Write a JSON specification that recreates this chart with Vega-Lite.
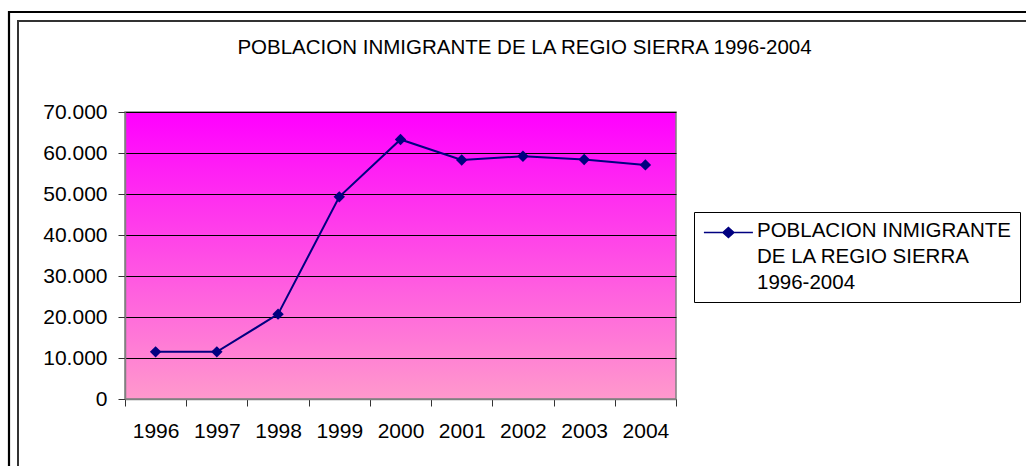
{
  "$schema": "https://vega.github.io/schema/vega-lite/v6.json",
  "autosize": {"type": "none"},
  "padding": {"left": 125, "top": 112, "right": 350, "bottom": 67},
  "width": 551,
  "height": 287,
  "background": "white",
  "title": {
    "text": "POBLACION INMIGRANTE DE LA REGIO SIERRA 1996-2004",
    "anchor": "middle",
    "frame": "group",
    "dx": 124,
    "baseline": "alphabetic",
    "offset": -64,
    "font": "Liberation Sans",
    "fontSize": 20.5,
    "fontWeight": "normal",
    "color": "black"
  },
  "view": {
    "fill": {
      "gradient": "linear",
      "x1": 0, "y1": 0, "x2": 0, "y2": 1,
      "stops": [
        {"offset": 0, "color": "#FF00FF"},
        {"offset": 1, "color": "#FF99CC"}
      ]
    },
    "stroke": "#808080",
    "strokeWidth": 1.5
  },
  "config": {
    "locale": {"number": {"decimal": ",", "thousands": ".", "grouping": [3], "currency": ["", " €"]}},
    "font": "Liberation Sans",
    "style": {"guide-label": {"lineHeight": 26.2}}
  },
  "resolve": {"scale": {"x": "independent"}, "axis": {"x": "independent"}},
  "layer": [
    {
      "data": {"values": [{}]},
      "mark": {"type": "rect", "filled": false, "stroke": "black", "strokeWidth": 2.2, "xOffset": -116, "yOffset": -100, "x2Offset": 420, "y2Offset": 100},
      "encoding": {
        "x": {"datum": 0, "type": "quantitative", "scale": {"domain": [0, 1]}, "axis": null},
        "x2": {"datum": 1},
        "y": {"datum": 70000, "type": "quantitative"},
        "y2": {"datum": 0}
      }
    },
    {
      "data": {"values": [{}]},
      "mark": {"type": "rect", "filled": false, "stroke": "#333333", "strokeWidth": 2, "xOffset": -107, "yOffset": -91, "x2Offset": 420, "y2Offset": 100},
      "encoding": {
        "x": {"datum": 0, "type": "quantitative", "scale": {"domain": [0, 1]}, "axis": null},
        "x2": {"datum": 1},
        "y": {"datum": 70000, "type": "quantitative"},
        "y2": {"datum": 0}
      }
    },
    {
      "data": {
        "values": [
          {"year": "1996", "value": 11500, "serie": "POBLACION INMIGRANTE DE LA REGIO SIERRA 1996-2004"},
          {"year": "1997", "value": 11500, "serie": "POBLACION INMIGRANTE DE LA REGIO SIERRA 1996-2004"},
          {"year": "1998", "value": 20700, "serie": "POBLACION INMIGRANTE DE LA REGIO SIERRA 1996-2004"},
          {"year": "1999", "value": 49300, "serie": "POBLACION INMIGRANTE DE LA REGIO SIERRA 1996-2004"},
          {"year": "2000", "value": 63300, "serie": "POBLACION INMIGRANTE DE LA REGIO SIERRA 1996-2004"},
          {"year": "2001", "value": 58300, "serie": "POBLACION INMIGRANTE DE LA REGIO SIERRA 1996-2004"},
          {"year": "2002", "value": 59200, "serie": "POBLACION INMIGRANTE DE LA REGIO SIERRA 1996-2004"},
          {"year": "2003", "value": 58400, "serie": "POBLACION INMIGRANTE DE LA REGIO SIERRA 1996-2004"},
          {"year": "2004", "value": 57100, "serie": "POBLACION INMIGRANTE DE LA REGIO SIERRA 1996-2004"}
        ]
      },
      "mark": {"type": "line", "strokeWidth": 2, "point": {"shape": "diamond", "size": 130, "filled": true, "opacity": 1}},
      "encoding": {
        "x": {
          "field": "year", "type": "ordinal",
          "scale": {"type": "band", "paddingInner": 0, "paddingOuter": 0},
          "axis": {
            "title": null, "orient": "bottom", "labelAngle": 0, "tickBand": "extent",
            "domainColor": "#808080", "domainWidth": 1.5,
            "tickColor": "#333333", "tickSize": 7, "tickWidth": 1,
            "labelFont": "Liberation Sans", "labelFontSize": 21, "labelColor": "black",
            "labelPadding": 14, "grid": false
          }
        },
        "y": {
          "field": "value", "type": "quantitative",
          "scale": {"domain": [0, 70000], "nice": false},
          "axis": {
            "title": null, "tickCount": 7, "format": ",.0f",
            "domainColor": "#808080", "domainWidth": 1.5,
            "tickColor": "#333333", "tickSize": 7, "tickWidth": 1,
            "labelFont": "Liberation Sans", "labelFontSize": 21, "labelColor": "black",
            "labelPadding": 11, "grid": true, "gridColor": "black", "gridWidth": 1, "gridOpacity": 1
          }
        },
        "color": {
          "field": "serie", "type": "nominal",
          "scale": {"range": ["#000080"]},
          "legend": {
            "title": null, "orient": "none", "legendX": 569, "legendY": 100,
            "strokeColor": "black", "padding": 8,
            "symbolType": "M-0.95,-0.418H1.488M-0.005,-0.418L0.269,-0.667L0.543,-0.418L0.269,-0.169Z",
            "symbolSize": 1616, "symbolStrokeWidth": 1.5, "symbolFillColor": "#000080", "symbolStrokeColor": "#000080",
            "labelExpr": "['POBLACION INMIGRANTE', 'DE LA REGIO SIERRA', '1996-2004']",
            "labelFont": "Liberation Sans", "labelFontSize": 20.5, "labelColor": "black",
            "labelBaseline": "bottom", "labelOffset": 13, "labelLimit": 400
          }
        }
      }
    }
  ]
}
